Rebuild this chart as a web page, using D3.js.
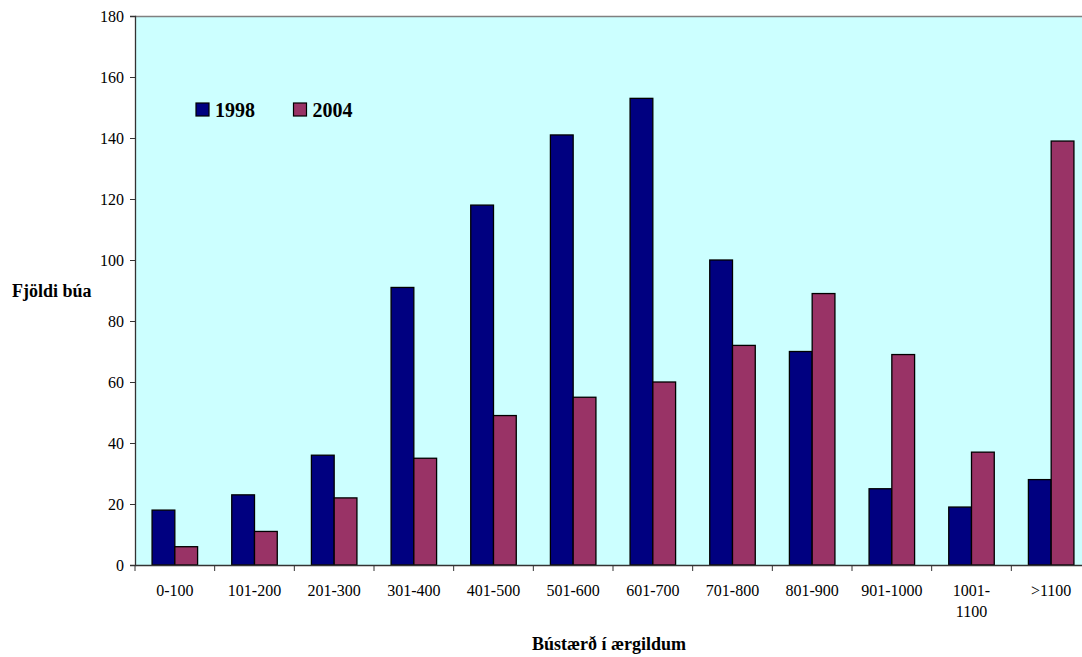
<!DOCTYPE html>
<html>
<head>
<meta charset="utf-8">
<script src="https://cdn.jsdelivr.net/npm/d3@7/dist/d3.min.js"></script>
<style>
  html, body { margin: 0; padding: 0; background: #ffffff; }
  svg { display: block; }
  text { font-family: "Liberation Serif", "Times New Roman", serif; fill: #000; }
</style>
</head>
<body>
<svg id="chart" width="1082" height="657"></svg>
<script>
// Herd sizes (ewe units) and number of farms per size class
const categories = ["0-100", "101-200", "201-300", "301-400", "401-500", "501-600",
                    "601-700", "701-800", "801-900", "901-1000", "1001-\n1100", ">1100"];
const seriesNames = ["1998", "2004"];
const values1998 = [18, 23, 36, 91, 118, 141, 153, 100, 70, 25, 19, 28];
const values2004 = [6, 11, 22, 35, 49, 55, 60, 72, 89, 69, 37, 139];
const yTicks = [0, 20, 40, 60, 80, 100, 120, 140, 160, 180];
const colors = ["#000080", "#993366"];

const svg = d3.select("#chart");
const plot = { left: 135, top: 16, bottom: 565, width: 956 };

const x = d3.scaleBand()
  .domain(categories)
  .range([plot.left, plot.left + plot.width])
  .paddingInner(0).paddingOuter(0);

const x1 = d3.scaleBand()
  .domain(seriesNames)
  .range([0, x.bandwidth()])
  .paddingInner(0)
  .paddingOuter(0.75);

const y = d3.scaleLinear().domain([0, 180]).range([plot.bottom, plot.top]);

// plot background
svg.append("rect")
  .attr("x", plot.left).attr("y", plot.top)
  .attr("width", plot.width).attr("height", plot.bottom - plot.top)
  .attr("fill", "#ccffff");

// top border
svg.append("line")
  .attr("x1", plot.left).attr("x2", plot.left + plot.width)
  .attr("y1", plot.top + 0.5).attr("y2", plot.top + 0.5)
  .attr("stroke", "#808080").attr("stroke-width", 1.5);

// bars
const data = categories.map((c, i) => ({ cat: c, vals: [values1998[i], values2004[i]] }));
const groups = svg.append("g").selectAll("g").data(data).join("g")
  .attr("transform", d => `translate(${x(d.cat)},0)`);
groups.selectAll("rect")
  .data(d => d.vals.map((v, k) => ({ key: seriesNames[k], v, k })))
  .join("rect")
  .attr("x", d => x1(d.key))
  .attr("width", x1.bandwidth())
  .attr("y", d => y(d.v))
  .attr("height", d => y(0) - y(d.v))
  .attr("fill", d => colors[d.k])
  .attr("stroke", "#000")
  .attr("stroke-width", 1.3);

// y axis
const yAxis = svg.append("g")
  .attr("transform", `translate(${plot.left},0)`)
  .call(d3.axisLeft(y).tickValues(yTicks).tickSize(5).tickPadding(6));
yAxis.select(".domain").attr("stroke", "#333").attr("stroke-width", 1.3);
yAxis.selectAll(".tick line").attr("stroke", "#333");
yAxis.selectAll("text").style("font-size", "16px").style("font-family", "Liberation Serif");

// x axis
const xAxis = svg.append("g")
  .attr("transform", `translate(0,${plot.bottom})`)
  .call(d3.axisBottom(x).tickSize(0).tickFormat(""));
xAxis.select(".domain").attr("stroke", "#333").attr("stroke-width", 1.3);
// category separator ticks
svg.append("g").selectAll("line")
  .data(categories)
  .join("line")
  .attr("x1", d => x(d)).attr("x2", d => x(d))
  .attr("y1", plot.bottom).attr("y2", plot.bottom + 6)
  .attr("stroke", "#333");

// category labels (multi-line where needed)
svg.append("g").selectAll("text")
  .data(categories)
  .join("text")
  .attr("text-anchor", "middle")
  .style("font-size", "16px")
  .each(function(d) {
    const lines = d.split("\n");
    const t = d3.select(this);
    lines.forEach((ln, i) => {
      t.append("tspan")
        .attr("x", x(d) + x.bandwidth() / 2)
        .attr("y", 596 + i * 21)
        .text(ln);
    });
  });

// axis titles
svg.append("text")
  .attr("x", 12).attr("y", 297)
  .style("font-size", "18px").style("font-weight", "bold")
  .text("Fjöldi búa");
svg.append("text")
  .attr("x", 609).attr("y", 650)
  .attr("text-anchor", "middle")
  .style("font-size", "18px").style("font-weight", "bold")
  .text("Bústærð í ærgildum");

// legend
const legend = svg.append("g").selectAll("g")
  .data(seriesNames)
  .join("g")
  .attr("transform", (d, i) => `translate(${196 + i * 97.5},103)`);
legend.append("rect")
  .attr("width", 13).attr("height", 13)
  .attr("fill", (d, i) => colors[i])
  .attr("stroke", "#000").attr("stroke-width", 1.2);
legend.append("text")
  .attr("x", 19).attr("y", 14)
  .style("font-size", "20px").style("font-weight", "bold")
  .text(d => d);
</script>
</body>
</html>
